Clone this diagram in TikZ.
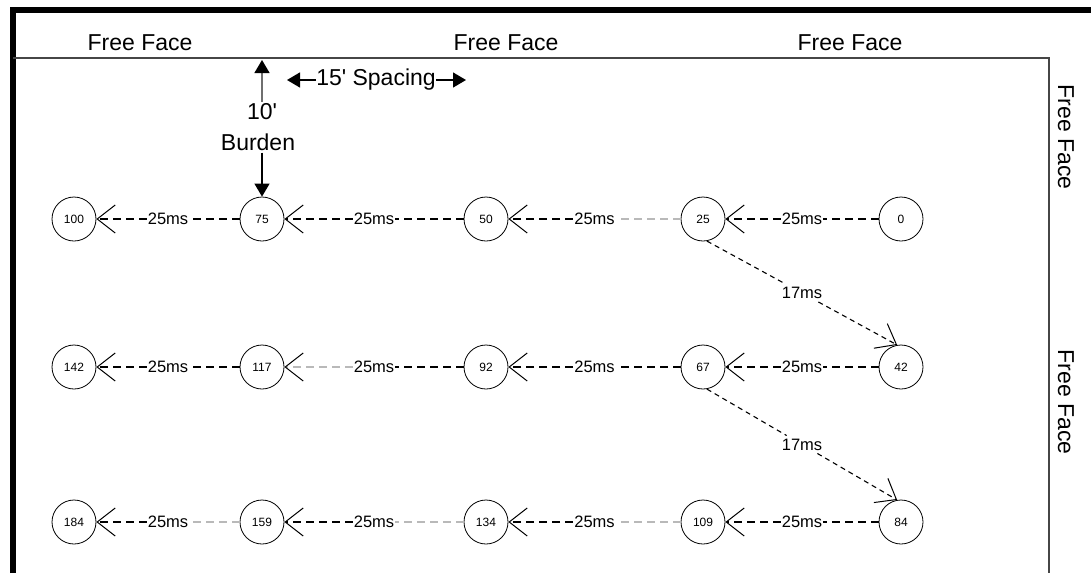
\documentclass[tikz,border=0pt]{standalone}
\usepackage{fontspec}
\setmainfont{Liberation Sans}[Ligatures=TeXOff]
\usetikzlibrary{arrows.meta}

\definecolor{lightdash}{RGB}{185,185,185}
\definecolor{frameline}{RGB}{70,70,70}

\tikzset{
  hole/.style={circle, draw, line width=0.8pt, minimum size=44pt, inner sep=0pt,
               font=\fontsize{12}{12}\selectfont},
  lbl/.style={fill=white, inner sep=1pt, font=\fontsize{16.5}{16.5}\selectfont},
  dlbl/.style={lbl, inner sep=3pt},
  big/.style={inner sep=2pt, font=\fontsize{23}{23}\selectfont},
  timing/.style={line width=1.1pt, dash pattern=on 8pt off 5pt},
  diag/.style={line width=1.1pt, dash pattern=on 5pt off 4pt},
  barb/.style={-{Straight Barb[length=18pt,width=28pt,line width=1pt,color=black]}},
  solidarrow/.style={line width=1.3pt, -{Triangle[length=13pt,width=15pt]}}
}

% delay connector: source, target, label, colour on source side, colour on target side
\newcommand\blastdelay[5]{%
  \path (#1) -- node[lbl, name=L#1#2] {#3} (#2);
  \draw[timing, #4] (#1) -- (L#1#2);
  \draw[timing, #5, barb] (L#1#2) -- (#2);
}

\begin{document}
\begin{tikzpicture}[x=1pt, y=-1pt]
\useasboundingbox (0,0) rectangle (1091,573);

% frame
\draw[line width=6pt] (13,573) -- (13,10) -- (1091,10);
\draw[line width=1.2pt, frameline] (13,58) -- (1049,58) -- (1049,573);

% free face labels
\node[big] (ff1) at (140,43) {Free Face};
\node[big] (ff2) at (506,43) {Free Face};
\node[big] (ff3) at (850,43) {Free Face};
\node[big, rotate=-90] (ff4) at (1066,137) {Free Face};
\node[big, rotate=-90] (ff5) at (1066,402) {Free Face};

% blast holes
\node[hole] (n100) at (74,219)  {100};
\node[hole] (n75)  at (262,219) {75};
\node[hole] (n50)  at (486,219) {50};
\node[hole] (n25)  at (703,219) {25};
\node[hole] (n0)   at (901,219) {0};

\node[hole] (n142) at (74,367)  {142};
\node[hole] (n117) at (262,367) {117};
\node[hole] (n92)  at (486,367) {92};
\node[hole] (n67)  at (703,367) {67};
\node[hole] (n42)  at (901,367) {42};

\node[hole] (n184) at (74,522)  {184};
\node[hole] (n159) at (262,522) {159};
\node[hole] (n134) at (486,522) {134};
\node[hole] (n109) at (703,522) {109};
\node[hole] (n84)  at (901,522) {84};

% burden and spacing
\node[big] (ten) at (262,112) {10'};
\node[big] (bur) at (258,142) {Burden};
\coordinate (burTop) at (262,60);
\draw[solidarrow, -{Triangle[length=13pt,width=15pt,color=black]}, lightdash!60!black] (ten.north) -- (burTop);
\draw[solidarrow] (n75 |- bur.south) -- (n75);

\node[big, inner sep=0pt] (spc) at (376,80) {15' Spacing};
\coordinate (spcL) at (287,80);
\coordinate (spcR) at (466,80);
\draw[solidarrow] (spc.west) -- (spcL);
\draw[solidarrow] (spc.east) -- (spcR);

% row 1
\blastdelay{n0}{n25}{25ms}{black}{black}
\blastdelay{n25}{n50}{25ms}{lightdash}{black}
\blastdelay{n50}{n75}{25ms}{black}{black}
\blastdelay{n75}{n100}{25ms}{black}{black}

% row 2
\blastdelay{n42}{n67}{25ms}{black}{black}
\blastdelay{n67}{n92}{25ms}{black}{black}
\blastdelay{n92}{n117}{25ms}{black}{lightdash}
\blastdelay{n117}{n142}{25ms}{black}{black}

% row 3
\blastdelay{n84}{n109}{25ms}{black}{black}
\blastdelay{n109}{n134}{25ms}{lightdash}{black}
\blastdelay{n134}{n159}{25ms}{lightdash}{black}
\blastdelay{n159}{n184}{25ms}{lightdash}{black}

% row-to-row delays
\path (n25.-80) -- node[dlbl, name=d1] {17ms} (n42.100);
\draw[diag] (n25.-80) -- (d1);
\draw[diag, barb] (d1) -- (n42.100);

\path (n67.-80) -- node[dlbl, name=d2] {17ms} (n84.100);
\draw[diag] (n67.-80) -- (d2);
\draw[diag, barb] (d2) -- (n84.100);

\end{tikzpicture}
\end{document}
